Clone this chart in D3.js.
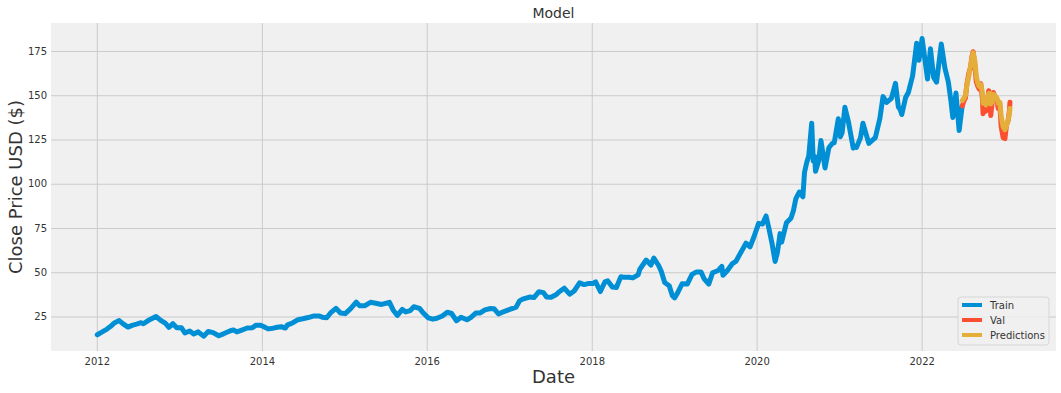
<!DOCTYPE html>
<html>
<head>
<meta charset="utf-8">
<script src="https://cdn.jsdelivr.net/npm/d3@7"></script>
<style>
  body { margin: 0; background: #fff; }
  svg text { font-family: "DejaVu Sans", sans-serif; }
</style>
</head>
<body>
<div id="container"></div>
<script>
// AAPL close, training part (date, close)
const trainData = [
  ["2012-01-03", 14.7], ["2012-01-25", 16.3], ["2012-02-15", 17.9], ["2012-03-01", 19.3],
  ["2012-03-20", 21.5], ["2012-04-09", 22.7], ["2012-04-25", 21.0], ["2012-05-18", 19.0],
  ["2012-06-05", 20.0], ["2012-06-25", 20.7], ["2012-07-15", 21.5], ["2012-07-25", 20.9],
  ["2012-08-15", 22.7], ["2012-09-19", 25.0], ["2012-10-10", 22.8], ["2012-10-30", 21.2],
  ["2012-11-15", 18.9], ["2012-12-03", 20.9], ["2012-12-20", 18.7], ["2013-01-10", 18.6],
  ["2013-01-25", 15.7], ["2013-02-15", 16.8], ["2013-03-05", 15.1], ["2013-03-25", 16.3],
  ["2013-04-19", 13.9], ["2013-05-08", 16.5], ["2013-05-30", 15.9], ["2013-06-24", 14.1],
  ["2013-07-15", 15.2], ["2013-08-12", 16.8], ["2013-08-28", 17.4], ["2013-09-12", 16.3],
  ["2013-10-01", 17.2], ["2013-10-28", 18.5], ["2013-11-20", 18.6], ["2013-12-05", 20.0],
  ["2013-12-26", 20.1], ["2014-01-10", 19.2], ["2014-01-28", 18.0], ["2014-02-20", 18.4],
  ["2014-03-10", 18.9], ["2014-03-28", 19.2], ["2014-04-15", 18.5], ["2014-04-25", 20.3],
  ["2014-05-15", 21.2], ["2014-06-10", 23.2], ["2014-07-01", 23.7], ["2014-07-25", 24.4],
  ["2014-08-20", 25.3], ["2014-09-10", 25.3], ["2014-09-25", 24.6], ["2014-10-15", 24.3],
  ["2014-11-01", 27.0], ["2014-11-25", 29.6], ["2014-12-15", 27.0], ["2015-01-05", 26.6],
  ["2015-01-28", 29.3], ["2015-02-23", 33.1], ["2015-03-10", 31.0], ["2015-04-01", 31.0],
  ["2015-04-27", 33.0], ["2015-05-20", 32.5], ["2015-06-15", 31.8], ["2015-07-20", 33.0],
  ["2015-08-05", 28.7], ["2015-08-24", 25.6], ["2015-09-15", 29.0], ["2015-09-30", 27.6],
  ["2015-10-20", 28.3], ["2015-11-05", 30.5], ["2015-11-30", 29.6], ["2015-12-18", 26.8],
  ["2016-01-08", 24.2], ["2016-01-28", 23.5], ["2016-02-15", 24.0], ["2016-03-10", 25.3],
  ["2016-04-01", 27.4], ["2016-04-20", 26.7], ["2016-05-12", 22.6], ["2016-06-01", 24.6],
  ["2016-06-27", 23.1], ["2016-07-15", 24.5], ["2016-08-05", 26.9], ["2016-08-25", 27.0],
  ["2016-09-15", 28.7], ["2016-10-10", 29.5], ["2016-10-25", 29.4], ["2016-11-14", 26.4],
  ["2016-12-08", 27.8], ["2017-01-03", 29.0], ["2017-01-31", 30.3], ["2017-02-15", 33.8],
  ["2017-03-01", 34.8], ["2017-03-31", 36.0], ["2017-04-20", 35.7], ["2017-05-12", 39.0],
  ["2017-06-01", 38.5], ["2017-06-15", 36.0], ["2017-07-05", 35.9], ["2017-07-28", 37.4],
  ["2017-08-10", 39.0], ["2017-09-01", 41.0], ["2017-09-25", 37.6], ["2017-10-15", 39.4],
  ["2017-11-08", 44.0], ["2017-11-28", 43.0], ["2017-12-15", 43.6], ["2018-01-05", 43.6],
  ["2018-01-18", 44.6], ["2018-02-08", 39.1], ["2018-02-28", 44.5], ["2018-03-13", 45.1],
  ["2018-04-02", 41.7], ["2018-04-20", 41.4], ["2018-05-10", 47.5], ["2018-05-25", 47.1],
  ["2018-06-15", 47.2], ["2018-07-02", 46.8], ["2018-07-25", 48.5], ["2018-08-02", 51.7],
  ["2018-08-30", 56.9], ["2018-09-20", 54.0], ["2018-10-03", 58.0], ["2018-10-24", 53.8],
  ["2018-11-05", 50.4], ["2018-11-20", 44.2], ["2018-12-10", 42.4], ["2018-12-24", 36.7],
  ["2019-01-03", 35.5], ["2019-01-15", 38.1], ["2019-02-05", 43.5], ["2019-02-28", 43.3],
  ["2019-03-21", 48.8], ["2019-04-10", 50.2], ["2019-04-30", 50.2], ["2019-05-13", 46.4],
  ["2019-06-03", 43.3], ["2019-06-20", 49.7], ["2019-07-15", 51.0], ["2019-07-31", 53.3],
  ["2019-08-05", 48.3], ["2019-08-23", 50.7], ["2019-09-16", 54.9], ["2019-10-01", 56.1],
  ["2019-10-25", 61.6], ["2019-11-15", 66.4], ["2019-12-03", 64.3], ["2019-12-20", 69.9],
  ["2020-01-10", 77.6], ["2020-01-27", 77.2], ["2020-02-12", 81.8], ["2020-02-24", 75.0],
  ["2020-03-09", 66.5], ["2020-03-23", 56.1], ["2020-04-02", 61.0], ["2020-04-14", 71.8],
  ["2020-04-21", 67.0], ["2020-05-12", 77.9], ["2020-06-01", 80.5], ["2020-06-12", 84.7],
  ["2020-06-23", 91.6], ["2020-07-08", 95.3], ["2020-07-24", 92.6], ["2020-07-31", 106.3],
  ["2020-08-10", 112.0], ["2020-08-19", 115.7], ["2020-09-01", 134.2], ["2020-09-08", 112.8],
  ["2020-09-14", 115.4], ["2020-09-18", 107.0], ["2020-10-02", 113.0], ["2020-10-12", 124.4],
  ["2020-10-21", 116.9], ["2020-10-30", 108.9], ["2020-11-16", 120.3], ["2020-12-01", 122.7],
  ["2020-12-10", 123.2], ["2020-12-28", 136.7], ["2021-01-06", 126.6], ["2021-01-14", 128.9],
  ["2021-01-26", 143.2], ["2021-02-10", 135.4], ["2021-03-04", 120.1], ["2021-03-12", 121.0],
  ["2021-03-18", 120.5], ["2021-04-05", 125.9], ["2021-04-16", 134.2], ["2021-05-12", 122.8],
  ["2021-05-28", 124.6], ["2021-06-10", 126.1], ["2021-06-30", 136.9], ["2021-07-14", 149.2],
  ["2021-07-30", 145.9], ["2021-08-20", 148.2], ["2021-09-07", 156.7], ["2021-09-20", 143.3],
  ["2021-09-28", 141.9], ["2021-10-05", 139.1], ["2021-10-22", 148.7], ["2021-11-03", 151.5],
  ["2021-11-22", 161.0], ["2021-12-10", 179.4], ["2021-12-20", 169.8], ["2022-01-03", 182.0],
  ["2022-01-27", 159.2], ["2022-02-09", 176.3], ["2022-02-23", 160.1], ["2022-03-08", 157.4],
  ["2022-03-29", 178.9], ["2022-04-14", 165.3], ["2022-04-29", 157.6], ["2022-05-11", 146.5],
  ["2022-05-19", 137.4], ["2022-06-02", 151.2], ["2022-06-16", 130.1], ["2022-06-29", 143.5]
];

// validation part (actual close)
const valData = [
  ["2022-06-30", 144.0], ["2022-07-08", 147.0], ["2022-07-14", 148.5], ["2022-07-20", 156.0],
  ["2022-07-29", 162.5], ["2022-08-05", 165.5], ["2022-08-12", 172.0], ["2022-08-17", 174.6],
  ["2022-08-24", 167.5], ["2022-08-31", 157.5], ["2022-09-07", 155.0], ["2022-09-13", 153.5],
  ["2022-09-20", 156.5], ["2022-09-27", 148.0], ["2022-09-30", 139.5], ["2022-10-06", 146.5],
  ["2022-10-12", 141.0], ["2022-10-19", 146.5], ["2022-10-25", 152.5], ["2022-10-31", 150.0],
  ["2022-11-03", 138.5], ["2022-11-10", 146.8], ["2022-11-15", 151.5], ["2022-11-23", 148.5],
  ["2022-11-30", 148.0], ["2022-12-06", 142.5], ["2022-12-13", 145.5], ["2022-12-19", 132.5],
  ["2022-12-28", 126.0], ["2023-01-05", 125.5], ["2023-01-12", 133.5], ["2023-01-19", 135.5],
  ["2023-01-25", 141.8], ["2023-01-27", 146.0]
];

// model predictions over the validation dates
const predData = [
  ["2022-06-30", 147.0], ["2022-07-08", 148.5], ["2022-07-14", 150.0], ["2022-07-20", 155.5],
  ["2022-07-29", 161.0], ["2022-08-05", 166.0], ["2022-08-12", 171.0], ["2022-08-17", 174.0],
  ["2022-08-24", 170.0], ["2022-08-31", 161.0], ["2022-09-07", 156.5], ["2022-09-13", 155.0],
  ["2022-09-20", 156.0], ["2022-09-27", 151.5], ["2022-09-30", 145.5], ["2022-10-06", 146.5],
  ["2022-10-12", 144.5], ["2022-10-19", 146.5], ["2022-10-25", 151.0], ["2022-10-31", 151.0],
  ["2022-11-03", 145.0], ["2022-11-10", 146.5], ["2022-11-15", 150.5], ["2022-11-23", 149.5],
  ["2022-11-30", 148.5], ["2022-12-06", 145.5], ["2022-12-13", 146.0], ["2022-12-19", 138.5],
  ["2022-12-28", 132.0], ["2023-01-05", 130.5], ["2023-01-12", 133.0], ["2023-01-19", 136.0],
  ["2023-01-25", 139.5], ["2023-01-27", 142.5]
];

const yTicks = [25, 50, 75, 100, 125, 150, 175];
const xTickYears = [2012, 2014, 2016, 2018, 2020, 2022];
const seriesNames = ["Train", "Val", "Predictions"];
const seriesColors = ["#008fd5", "#fc4f30", "#e5ae38"];

const width = 1061, height = 393;
const margin = { top: 23, right: 5, bottom: 42, left: 51 };

const parse = d3.timeParse("%Y-%m-%d");
const toPoints = arr => arr.map(d => ({ date: parse(d[0]), value: d[1] }));

const svg = d3.select("#container").append("svg")
  .attr("width", width)
  .attr("height", height);

const x = d3.scaleTime()
  .domain([new Date(2011, 5, 12), new Date(2023, 7, 19)])
  .range([margin.left, width - margin.right]);

const y = d3.scaleLinear()
  .domain([5.5, 190.8])
  .range([height - margin.bottom, margin.top]);

// plot background
svg.append("rect")
  .attr("x", margin.left)
  .attr("y", margin.top)
  .attr("width", width - margin.left - margin.right)
  .attr("height", height - margin.top - margin.bottom)
  .attr("fill", "#f0f0f0");

// grid + tick labels through axes
const xAxis = d3.axisBottom(x)
  .tickValues(xTickYears.map(yr => new Date(yr, 0, 1)))
  .tickFormat(d3.timeFormat("%Y"))
  .tickSize(-(height - margin.top - margin.bottom))
  .tickPadding(7);

const yAxis = d3.axisLeft(y)
  .tickValues(yTicks)
  .tickSize(-(width - margin.left - margin.right))
  .tickPadding(4);

const gx = svg.append("g")
  .attr("transform", `translate(0,${height - margin.bottom})`)
  .call(xAxis);
const gy = svg.append("g")
  .attr("transform", `translate(${margin.left},0)`)
  .call(yAxis);

[gx, gy].forEach(g => {
  g.select(".domain").remove();
  g.selectAll(".tick line").attr("stroke", "#cbcbcb").attr("stroke-width", 1);
  g.selectAll(".tick text")
    .attr("fill", "#333")
    .style("font-size", "10px")
    .style("font-family", "'DejaVu Sans', sans-serif");
});

// lines
const line = d3.line()
  .x(d => x(d.date))
  .y(d => y(d.value));

[trainData, valData, predData].forEach((arr, i) => {
  svg.append("path")
    .datum(toPoints(arr))
    .attr("fill", "none")
    .attr("stroke", seriesColors[i])
    .attr("stroke-width", 5)
    .attr("stroke-linejoin", "round")
    .attr("stroke-linecap", "round")
    .attr("d", line);
});

// title and axis labels
svg.append("text")
  .attr("x", (margin.left + width - margin.right) / 2)
  .attr("y", 18)
  .attr("text-anchor", "middle")
  .attr("fill", "#333")
  .style("font-size", "14px")
  .text("Model");

svg.append("text")
  .attr("x", (margin.left + width - margin.right) / 2)
  .attr("y", 383)
  .attr("text-anchor", "middle")
  .attr("fill", "#333")
  .style("font-size", "18px")
  .text("Date");

svg.append("text")
  .attr("transform", `translate(22,${(margin.top + height - margin.bottom) / 2}) rotate(-90)`)
  .attr("text-anchor", "middle")
  .attr("fill", "#333")
  .style("font-size", "18px")
  .text("Close Price USD ($)");

// legend
const legend = svg.append("g").attr("transform", "translate(958,297)");
legend.append("rect")
  .attr("width", 91)
  .attr("height", 48)
  .attr("rx", 3)
  .attr("fill", "#f0f0f0")
  .attr("fill-opacity", 0.8)
  .attr("stroke", "#d6d6d6");

seriesNames.forEach((name, i) => {
  const row = legend.append("g").attr("transform", `translate(0,${8 + i * 15})`);
  row.append("line")
    .attr("x1", 4).attr("x2", 24)
    .attr("stroke", seriesColors[i])
    .attr("stroke-width", 4);
  row.append("text")
    .attr("x", 32)
    .attr("dy", "0.35em")
    .attr("fill", "#333")
    .style("font-size", "10px")
    .text(name);
});
</script>
</body>
</html>
